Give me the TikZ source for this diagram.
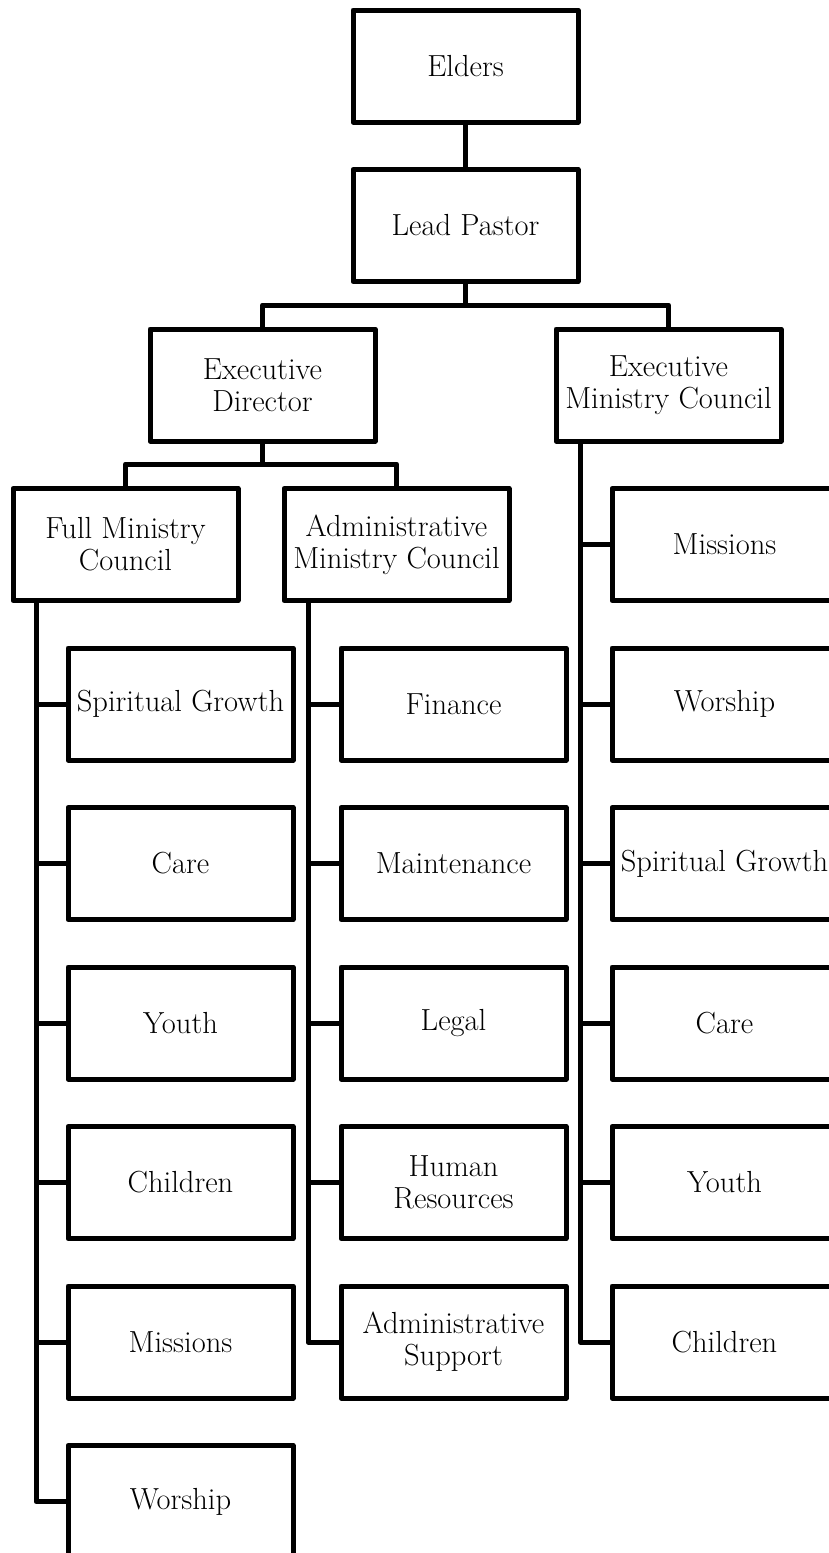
\documentclass[tikz,border=0pt]{standalone}
\usepackage{fontspec}
\begin{document}
\begin{tikzpicture}[x=1pt,y=-1pt,
  box/.style={draw,line width=5pt,line join=round,minimum width=225pt,minimum height=112pt,
    inner sep=0pt,outer sep=0pt,align=center,font=\fontsize{30.5}{32}\selectfont},
  conn/.style={line width=5pt,line join=round}]
\useasboundingbox (0,0) rectangle (829,1553);
\clip (0,0) rectangle (829,1553);
\node[box] (elders) at (465.5,66) {Elders};
\node[box] (lp) at (465.5,225.5) {Lead Pastor};
\node[box] (ed) at (262.5,385) {Executive\\Director};
\node[box] (emc) at (668.5,385) {Executive\\Ministry Council};
\node[box] (fmc) at (125.5,544.5) {Full Ministry\\Council};
\node[box] (amc) at (396.5,544.5) {Administrative\\Ministry Council};
% left column
\node[box] (l1) at (180.5,704) {Spiritual Growth};
\node[box] (l2) at (180.5,863.5) {Care};
\node[box] (l3) at (180.5,1023) {Youth};
\node[box] (l4) at (180.5,1182.5) {Children};
\node[box] (l5) at (180.5,1342) {Missions};
\node[box] (l6) at (180.5,1501.5) {Worship};
% middle column
\node[box] (m1) at (453.5,704) {Finance};
\node[box] (m2) at (453.5,863.5) {Maintenance};
\node[box] (m3) at (453.5,1023) {Legal};
\node[box] (m4) at (453.5,1182.5) {Human\\Resources};
\node[box] (m5) at (453.5,1342) {Administrative\\Support};
% right column
\node[box] (r1) at (724.5,544.5) {Missions};
\node[box] (r2) at (724.5,704) {Worship};
\node[box] (r3) at (724.5,863.5) {Spiritual Growth};
\node[box] (r4) at (724.5,1023) {Care};
\node[box] (r5) at (724.5,1182.5) {Youth};
\node[box] (r6) at (724.5,1342) {Children};
% connectors
\draw[conn] (elders.south) -- (lp.north);
\draw[conn] (lp.south) -- ++(0,23.5) coordinate (b1);
\draw[conn] (ed.north) |- (b1) -| (emc.north);
\draw[conn] (ed.south) -- ++(0,23) coordinate (b2);
\draw[conn] (fmc.north) |- (b2) -| (amc.north);
\coordinate (sl) at ([xshift=23]fmc.south west);
\coordinate (sm) at ([xshift=24]amc.south west);
\coordinate (sr) at ([xshift=24]emc.south west);
\draw[conn] (sl) |- (l6.west);
\foreach \n in {l1,l2,l3,l4,l5} \draw[conn] (\n.west) -- (\n.west -| sl);
\draw[conn] (sm) |- (m5.west);
\foreach \n in {m1,m2,m3,m4} \draw[conn] (\n.west) -- (\n.west -| sm);
\draw[conn] (sr) |- (r6.west);
\foreach \n in {r1,r2,r3,r4,r5} \draw[conn] (\n.west) -- (\n.west -| sr);
\end{tikzpicture}
\end{document}
